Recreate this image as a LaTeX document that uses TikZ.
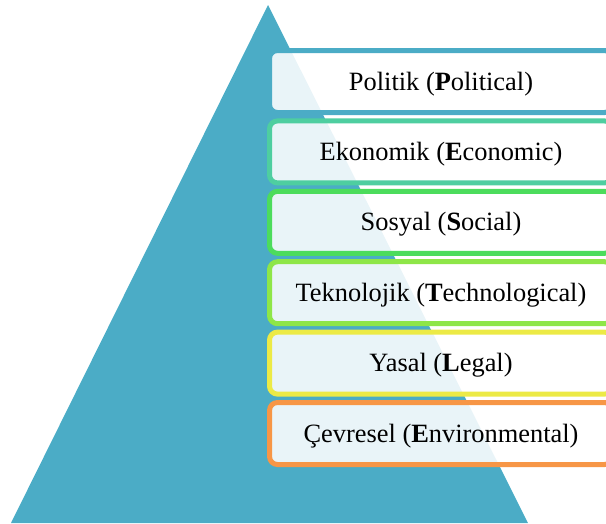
\documentclass[tikz,border=0pt]{standalone}
\usepackage{fontspec}
\setmainfont{Liberation Serif}
\definecolor{pyr}{RGB}{75,172,198}
\definecolor{cA}{RGB}{75,172,198}
\definecolor{cB}{RGB}{78,206,160}
\definecolor{cC}{RGB}{76,220,92}
\definecolor{cD}{RGB}{142,230,72}
\definecolor{cE}{RGB}{236,234,70}
\definecolor{cF}{RGB}{247,150,70}
\begin{document}
\begin{tikzpicture}[x=1pt,y=-1pt,
  layer/.style={draw=#1, rectangle, rounded corners=8pt, line width=5pt,
    minimum width=343pt, minimum height=62pt, inner sep=0pt,
    text height=20pt, text depth=3pt,
    fill=white, fill opacity=0.88, text opacity=1,
    font=\fontsize{26.4}{30}\selectfont}]
\useasboundingbox (0,0) rectangle (606,523);
\clip (0,0) rectangle (606,523);
\fill[pyr] (268,5) -- (11,523) -- (528,523) -- cycle;
\node[layer=cA] (politik) at (441,81.5) {Politik (\textbf{P}olitical)};
\node[layer=cB] (ekonomik) at (441,151.9) {Ekonomik (\textbf{E}conomic)};
\node[layer=cC] (sosyal) at (441,222.3) {Sosyal (\textbf{S}ocial)};
\node[layer=cD] (teknolojik) at (441,292.7) {Teknolojik (\textbf{T}echnological)};
\node[layer=cE] (yasal) at (441,363.1) {Yasal (\textbf{L}egal)};
\node[layer=cF] (cevresel) at (441,433.5) {Çevresel (\textbf{E}nvironmental)};
\end{tikzpicture}
\end{document}
